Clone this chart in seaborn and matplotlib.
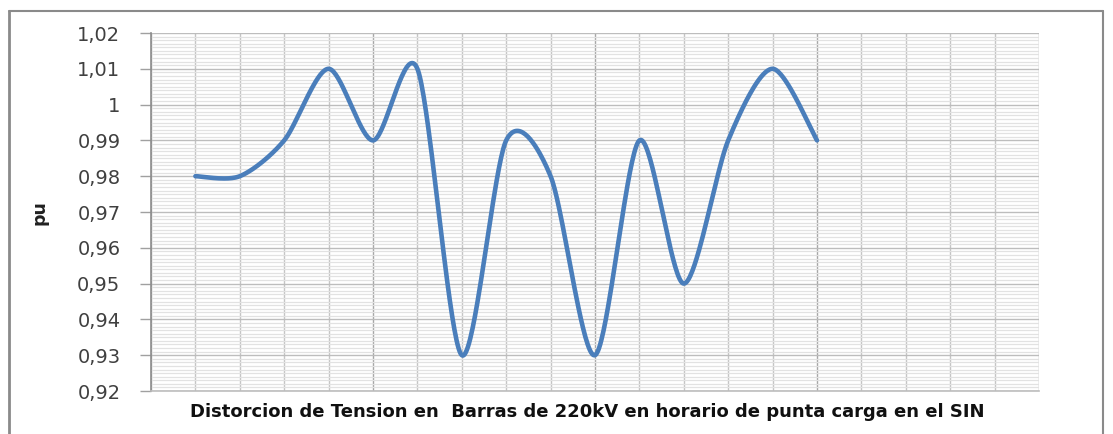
import matplotlib

matplotlib.use("Agg")

import matplotlib.pyplot as plt
import numpy as np
import pandas as pd
import seaborn as sns
from matplotlib.lines import Line2D
from matplotlib.ticker import FuncFormatter, MultipleLocator

sns.set_style("white")
plt.rcParams["font.family"] = ["DejaVu Sans"]

# data (points sit on vertical gridlines 1..15 of a 0..20 axis)
puntos = list(range(1, 16))
tension_pu = [0.98, 0.98, 0.99, 1.01, 0.99, 1.01, 0.93, 0.99,
              0.98, 0.93, 0.99, 0.95, 0.99, 1.01, 0.99]
y_ticks = [0.92, 0.93, 0.94, 0.95, 0.96, 0.97, 0.98, 0.99, 1.00, 1.01, 1.02]
x_label = "Distorcion de Tension en  Barras de 220kV en horario de punta carga en el SIN"
y_label = "pu"

LINE_COLOR = "#4a7ebb"


def smooth_curve(xs, ys, steps=40, k=7):
    # Excel-style smoothed line: cubic Bezier segments with Catmull-Rom-like tangents
    p = np.column_stack([xs, ys]).astype(float)
    p = np.vstack([p[0], p, p[-1]])
    t = np.linspace(0, 1, steps)[:, None]
    out = []
    for i in range(1, len(p) - 2):
        p0, p1, p2, p3 = p[i - 1], p[i], p[i + 1], p[i + 2]
        c1 = p1 + (p2 - p0) / k
        c2 = p2 - (p3 - p1) / k
        seg = ((1 - t) ** 3) * p1 + 3 * ((1 - t) ** 2) * t * c1 + 3 * (1 - t) * t ** 2 * c2 + t ** 3 * p2
        out.append(seg if i == 1 else seg[1:])
    out = np.vstack(out)
    return pd.DataFrame({"x": out[:, 0], "pu": out[:, 1], "orden": np.arange(len(out))})


df = smooth_curve(puntos, tension_pu)

fig = plt.figure(figsize=(11.13, 4.34), dpi=100)
ax = fig.add_axes([151 / 1113, 1 - 391 / 434, (1039 - 151) / 1113, (391 - 33) / 434])

sns.lineplot(data=df, x="x", y="pu", sort=False, estimator=None,
             color=LINE_COLOR, linewidth=3.3, ax=ax, zorder=5)
ax.lines[0].set_solid_capstyle("round")

ax.set_xlim(0, 20)
ax.set_ylim(0.92, 1.02)

ax.xaxis.set_major_locator(MultipleLocator(5))
ax.xaxis.set_minor_locator(MultipleLocator(1))
ax.set_yticks(y_ticks)
ax.yaxis.set_minor_locator(MultipleLocator(0.001))


def fmt_pu(v, pos):
    s = f"{v:.2f}".rstrip("0").rstrip(".")
    return s.replace(".", ",")


ax.yaxis.set_major_formatter(FuncFormatter(fmt_pu))

ax.grid(which="minor", axis="y", color="#e2e2e2", linewidth=0.9)
ax.grid(which="major", axis="y", color="#bdbdbd", linewidth=1.0)
ax.grid(which="minor", axis="x", color="#c4c4c4", linewidth=1.0)
ax.grid(which="major", axis="x", color="#a6a6a6", linewidth=1.0)
ax.set_axisbelow(True)

ax.tick_params(axis="x", which="both", bottom=False, labelbottom=False)
ax.tick_params(axis="y", which="major", left=True, length=8, width=1, color="#a0a0a0",
               pad=14, labelsize=14, labelcolor="#404040")
ax.tick_params(axis="y", which="minor", left=False)

for side in ["top", "right"]:
    ax.spines[side].set_visible(False)
ax.spines["left"].set_color("#8c8c8c")
ax.spines["left"].set_linewidth(1.2)
ax.spines["bottom"].set_color("#bdbdbd")
ax.spines["bottom"].set_linewidth(1.2)

ax.set_xlabel("")
ax.set_ylabel("")
fig.text(40 / 1113, 1 - 213 / 434, y_label, rotation=90, ha="center", va="center",
         fontsize=12.5, fontweight="bold", color="#202020")
fig.text(587 / 1113, 1 - 412 / 434, x_label, ha="center", va="center",
         fontsize=13, fontweight="bold", color="#101010")

# outer chart-area border
border_color = "#8a8a8a"
fig.add_artist(Line2D([9 / 1113, 9 / 1113], [0, 1 - 11 / 434], transform=fig.transFigure,
                      color=border_color, linewidth=2))
fig.add_artist(Line2D([9 / 1113, 1103 / 1113], [1 - 11 / 434, 1 - 11 / 434], transform=fig.transFigure,
                      color=border_color, linewidth=1.5))
fig.add_artist(Line2D([1103 / 1113, 1103 / 1113], [0, 1 - 11 / 434], transform=fig.transFigure,
                      color=border_color, linewidth=1.5))

fig.savefig("out.png", dpi=100)
plt.close(fig)
